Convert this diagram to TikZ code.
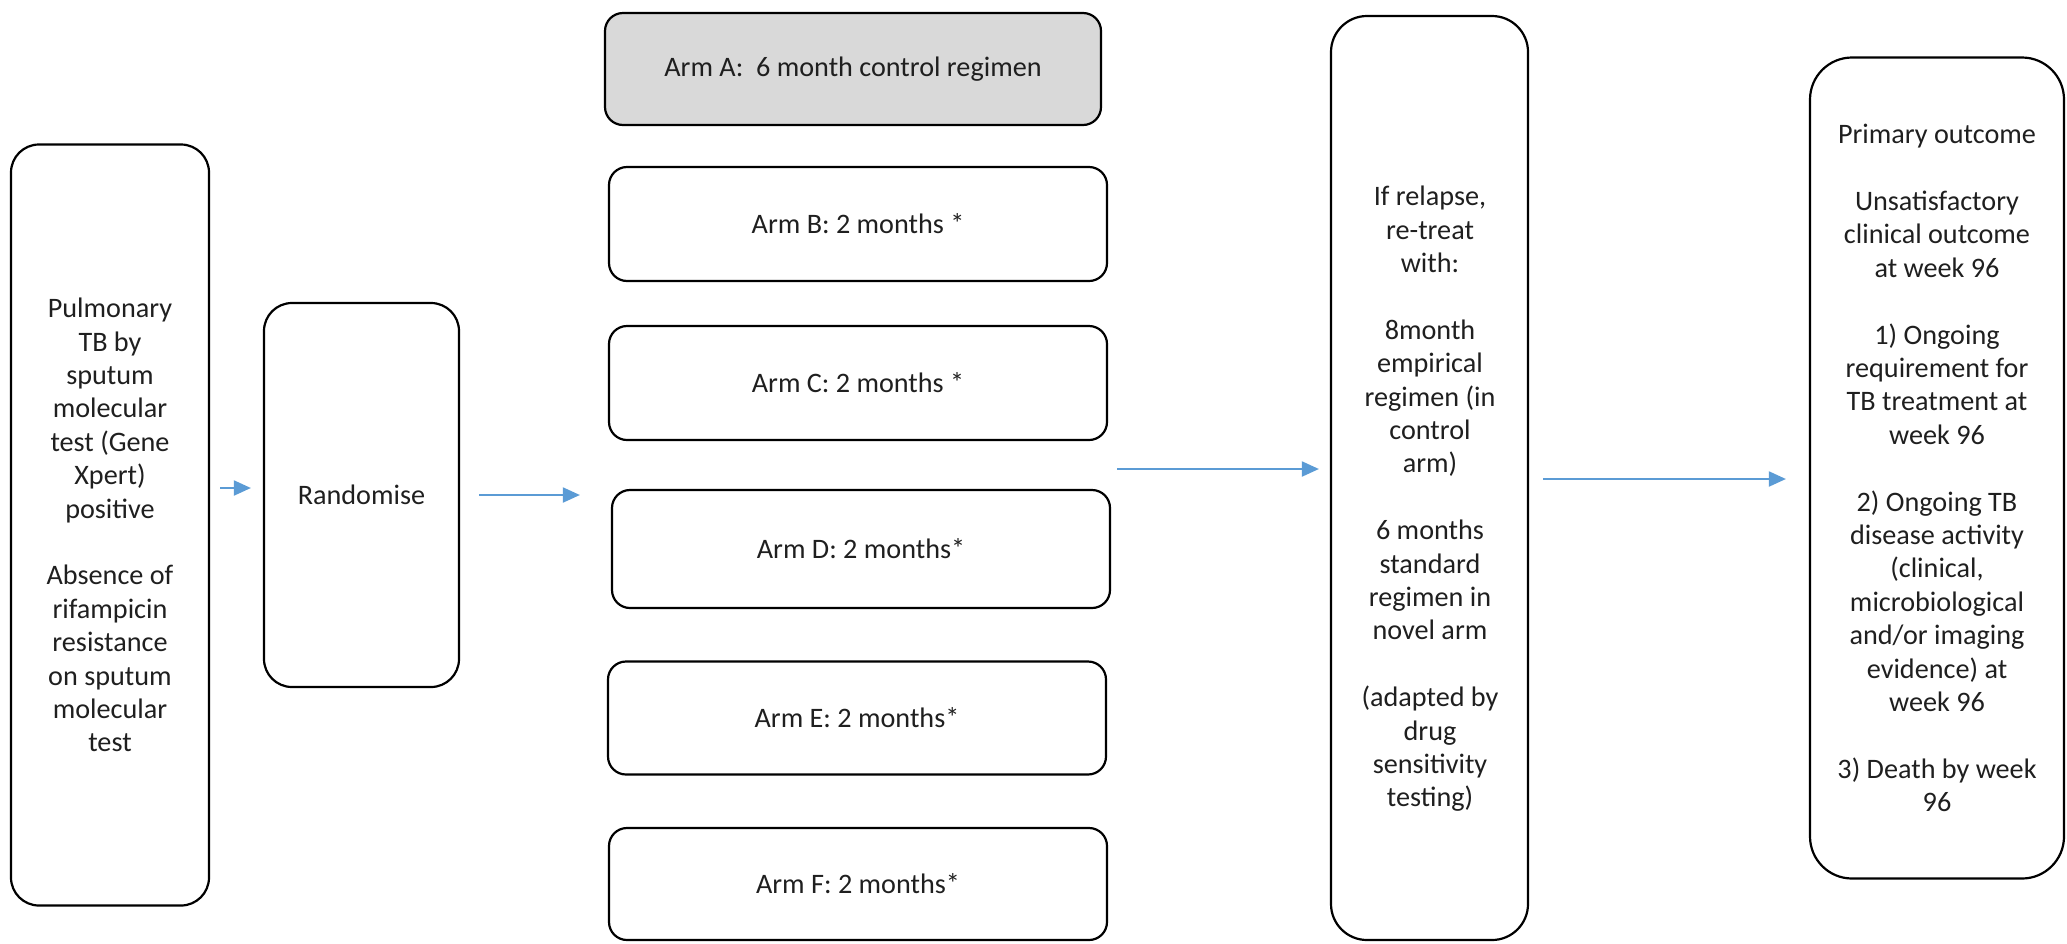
\documentclass[tikz,border=0pt]{standalone}
\usepackage{fontspec}
\setmainfont{Carlito}
\usetikzlibrary{arrows.meta}
\definecolor{arrblue}{HTML}{5B9BD5}
\definecolor{txt}{HTML}{1F1F1F}
\definecolor{armgray}{HTML}{D9D9D9}
\tikzset{
  box/.style={draw=black, line width=1.1pt, rounded corners=#1, inner sep=0pt, align=center, text=txt,
    font=\fontsize{14.1}{16.7}\selectfont},
  box/.default=10pt,
  armbox/.style={box=9pt, minimum width=249pt, minimum height=57pt},
  txtnode/.style={inner sep=0pt, align=center, text=txt, font=\fontsize{14.1}{16.7}\selectfont},
  arr/.style={draw=arrblue, line width=1pt, -{Triangle[length=8.5pt,width=7.5pt]}, arrblue}
}
\begin{document}
\begin{tikzpicture}[x=0.5pt,y=-0.5pt]
\useasboundingbox (0,0) rectangle (2067,943);
% left box
\node[box=14pt, minimum width=99pt, minimum height=380.5pt] (left) at (110,525)
 {Pulmonary\\TB by\\sputum\\molecular\\test (Gene\\Xpert)\\positive\\[16.7pt]Absence of\\rifampicin\\resistance\\on sputum\\molecular\\test};
% randomise
\node[box=14pt, minimum width=97.5pt, minimum height=192pt] (rand) at (361.5,495) {Randomise};
% arms
\node[armbox, fill=armgray, minimum width=248pt, minimum height=56pt] (armA) at (853,69) {Arm A: \ 6 month control regimen};
\node[armbox] (armB) at (858,224) {Arm B: 2 months *};
\node[armbox] (armC) at (858,383) {Arm C: 2 months *};
\node[armbox, minimum height=59pt] (armD) at (861,549) {Arm D: 2 months*};
\node[armbox, minimum height=56.5pt] (armE) at (857,718) {Arm E: 2 months*};
\node[armbox, minimum height=56pt] (armF) at (858,884) {Arm F: 2 months*};
% relapse
\node[box=18pt, minimum width=98.5pt, minimum height=462pt] (relapse) at (1429.5,478) {};
\node[txtnode] (relapsetext) at (1430,499)
 {If relapse,\\re-treat\\with:\\[16.7pt]8month\\empirical\\regimen (in\\control\\arm)\\[16.7pt]6 months\\standard\\regimen in\\novel arm\\[16.7pt](adapted by\\drug\\sensitivity\\testing)};
% outcome
\node[box=21pt, minimum width=127pt, minimum height=410.5pt] (outcome) at (1937,468)
 {Primary outcome\\[16.7pt]Unsatisfactory\\clinical outcome\\at week 96\\[16.7pt]1) Ongoing\\requirement for\\TB treatment at\\week 96\\[16.7pt]2) Ongoing TB\\disease activity\\(clinical,\\microbiological\\and/or imaging\\evidence) at\\week 96\\[16.7pt]3) Death by week\\96};
% arrows
\coordinate (a1s) at (220,488);
\draw[arr, shorten >=6pt] (a1s) -- (a1s -| rand.west);
\draw[arr, shorten <=9.5pt, shorten >=15.5pt] (rand.east) -- (rand.east -| armD.west);
\coordinate (a3s) at (1117,469);
\draw[arr, shorten >=5.5pt] (a3s) -- (a3s -| relapse.west);
\coordinate (a4s) at (1543,479);
\draw[arr, shorten >=11.5pt] (a4s) -- (a4s -| outcome.west);
\end{tikzpicture}
\end{document}
